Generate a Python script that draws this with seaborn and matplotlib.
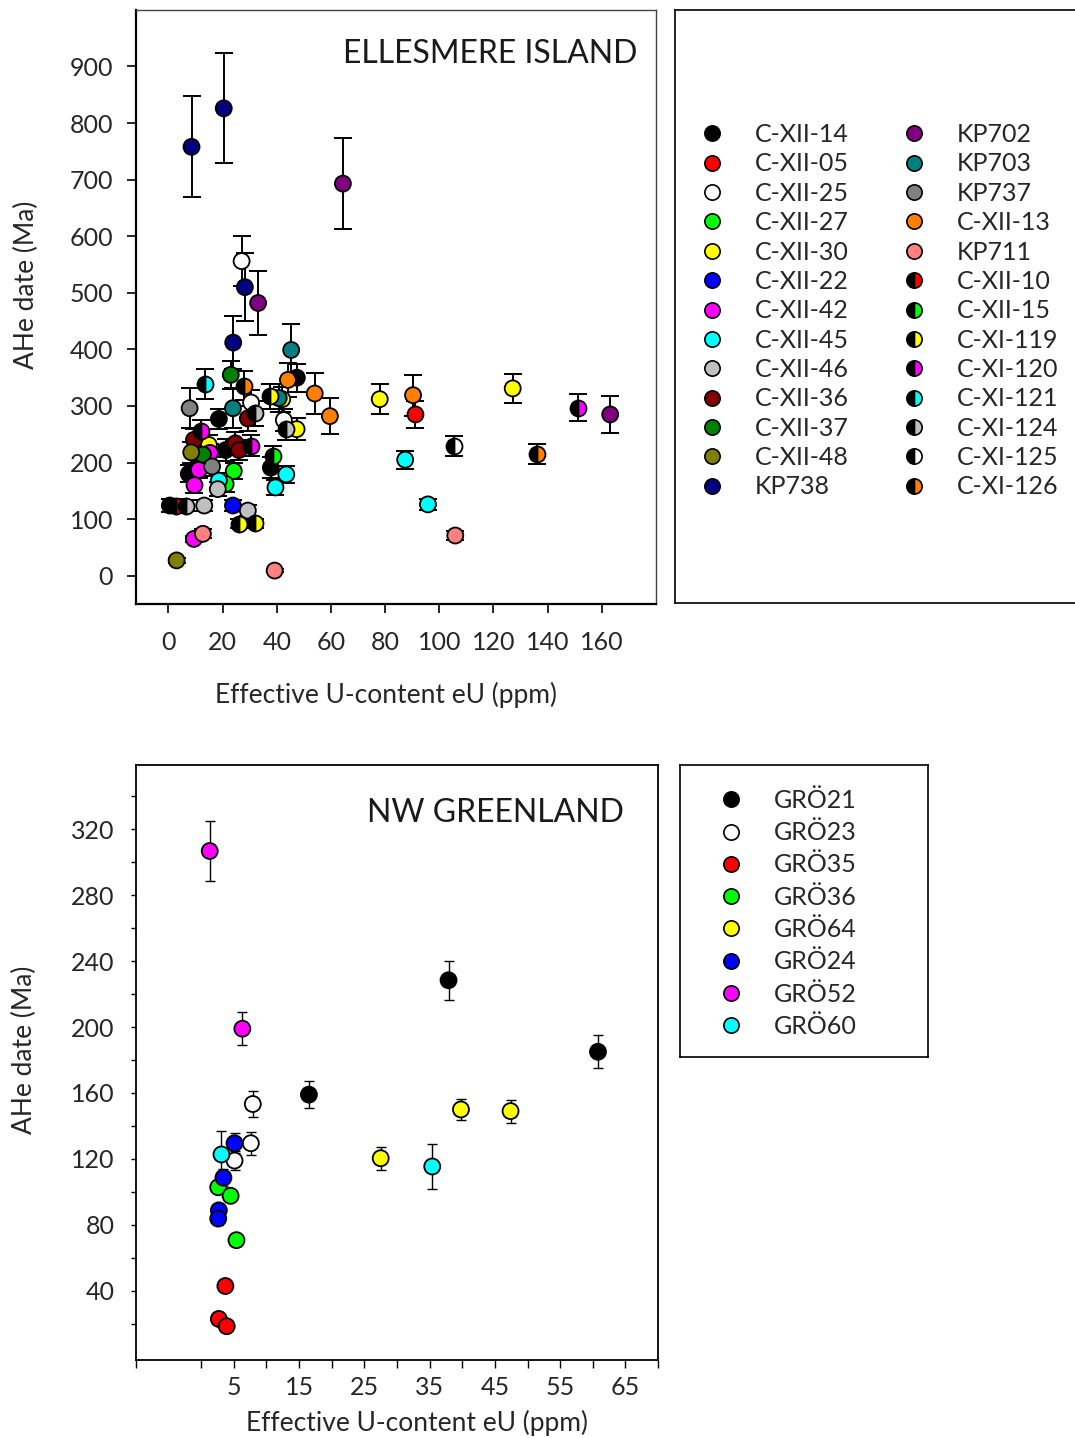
import numpy as np
import pandas as pd
import seaborn as sns
import matplotlib.pyplot as plt
from matplotlib.lines import Line2D
from matplotlib.ticker import FixedLocator

sns.set_style("white")
plt.rcParams['font.family'] = ['Lato', 'DejaVu Sans']

# ============================ ELLESMERE ISLAND ============================
ell_names = ['C-XII-14', 'C-XII-05', 'C-XII-25', 'C-XII-27', 'C-XII-30', 'C-XII-22',
             'C-XII-42', 'C-XII-45', 'C-XII-46', 'C-XII-36', 'C-XII-37', 'C-XII-48',
             'KP738', 'KP702', 'KP703', 'KP737', 'C-XII-13', 'KP711',
             'C-XII-10', 'C-XII-15', 'C-XI-119', 'C-XI-120', 'C-XI-121', 'C-XI-124',
             'C-XI-125', 'C-XI-126']
ell_colors = ['#000000', '#ff0000', '#ffffff', '#00ff00', '#ffff00', '#0000ff',
              '#ff00ff', '#00ffff', '#c0c0c0', '#800000', '#008000', '#808000',
              '#000080', '#800080', '#008080', '#808080', '#ff8000', '#ff8080',
              '#ff0000', '#00ff00', '#ffff00', '#ff00ff', '#00ffff', '#c0c0c0',
              '#ffffff', '#ff8000']
# half black / half colour symbols
ell_half = ['C-XII-10', 'C-XII-15', 'C-XI-119', 'C-XI-120', 'C-XI-121', 'C-XI-124',
            'C-XI-125', 'C-XI-126']

ell_sample = (['C-XII-14'] * 6 + ['C-XII-05'] + ['C-XII-25'] * 3 + ['C-XII-27'] * 2
              + ['C-XII-30'] * 5 + ['C-XII-22'] + ['C-XII-42'] * 4 + ['C-XII-45'] * 5
              + ['C-XII-46'] * 3 + ['C-XII-36'] * 4 + ['C-XII-37'] * 2 + ['C-XII-48'] * 2
              + ['KP738'] * 4 + ['KP702'] * 3 + ['KP703'] * 3 + ['KP737'] * 2
              + ['C-XII-13'] * 4 + ['KP711'] * 3 + ['C-XII-10'] + ['C-XII-15']
              + ['C-XI-119'] * 3 + ['C-XI-120'] * 3 + ['C-XI-121'] + ['C-XI-124'] * 3
              + ['C-XI-125'] + ['C-XI-126'] * 2)
ell_eu = [18.6, 47.4, 21.1, 37.8, 7.5, 0.5,
          91.2,
          27.0, 30.5, 42.6,
          24.1, 21.1,
          14.9, 42.0, 47.3, 78.0, 127.1,
          23.8,
          15.3, 11.2, 9.6, 9.4,
          43.5, 39.5, 18.6, 87.4, 95.8,
          18.2, 13.2, 29.3,
          29.3, 9.4, 24.7, 26.0,
          23.0, 12.7,
          8.4, 3.0,
          8.5, 20.4, 28.2, 23.9,
          64.4, 33.1, 163.1,
          45.3, 23.8, 40.7,
          7.8, 16.1,
          44.1, 54.0, 59.6, 90.3,
          12.7, 39.2, 105.9,
          2.6,
          38.5,
          37.4, 26.0, 32.1,
          12.1, 30.6, 151.2,
          13.3,
          6.3, 32.1, 43.5,
          105.4,
          27.8, 136.1]
ell_age = [277, 350, 222, 191, 180, 124,
           285,
           556, 306, 275,
           185, 162,
           231, 312, 259, 312, 331,
           124,
           217, 187, 160, 65,
           179, 156, 168, 205, 126,
           153, 124, 115,
           278, 240, 234, 222,
           355, 214,
           218, 27,
           758, 826, 510, 412,
           693, 482, 285,
           399, 296, 314,
           296, 193,
           346, 322, 282, 319,
           74, 9, 71,
           124,
           211,
           317, 92, 93,
           256, 230, 297,
           339,
           124, 287, 259,
           229,
           336, 215]
ell_err = [18, 25, 20, 18, 15, 12,
           24,
           44, 22, 20,
           15, 14,
           18, 22, 20, 26, 26,
           10,
           15, 15, 14, 6,
           15, 13, 14, 16, 10,
           12, 10, 10,
           22, 20, 20, 18,
           25, 18,
           18, 4,
           89, 97, 60, 47,
           81, 57, 33,
           46, 35, 25,
           35, 16,
           30, 37, 32, 36,
           8, 3, 8,
           12,
           18,
           22, 8, 8,
           20, 18, 24,
           26,
           10, 22, 20,
           18,
           25, 17]

# ============================ NW GREENLAND ============================
grl_names = ['GRÖ21', 'GRÖ23', 'GRÖ35', 'GRÖ36', 'GRÖ64', 'GRÖ24', 'GRÖ52', 'GRÖ60']
grl_colors = ['#000000', '#ffffff', '#ff0000', '#00ff00', '#ffff00', '#0000ff',
              '#ff00ff', '#00ffff']
grl_sample = (['GRÖ21'] * 3 + ['GRÖ23'] * 3 + ['GRÖ35'] * 3 + ['GRÖ36'] * 3
              + ['GRÖ64'] * 3 + ['GRÖ24'] * 4 + ['GRÖ52'] * 2 + ['GRÖ60'] * 2)
grl_eu = [37.9, 60.8, 16.5,
          7.9, 7.6, 5.1,
          3.7, 2.7, 3.9,
          2.6, 4.5, 5.4,
          27.5, 39.8, 47.4,
          5.1, 3.4, 2.7, 2.6,
          1.3, 6.3,
          3.1, 35.4]
grl_age = [228.4, 185, 159,
           153.3, 129.5, 119,
           42.9, 22.9, 18.5,
           102.8, 97.6, 70.7,
           120.4, 150, 149,
           129.5, 108.6, 88.8, 83.8,
           306.8, 199,
           122.7, 115.4]
grl_err = [11.7, 10, 8,
           8, 7, 6,
           0, 0, 0,
           3, 3, 0,
           7, 6.6, 7,
           6, 5, 4, 4,
           17.9, 10,
           14, 13.7]

ell = pd.DataFrame({'sample': ell_sample, 'eU': ell_eu, 'age': ell_age, 'err': ell_err})
grl = pd.DataFrame({'sample': grl_sample, 'eU': grl_eu, 'age': grl_age, 'err': grl_err})
ell_pal = dict(zip(ell_names, ell_colors))
grl_pal = dict(zip(grl_names, grl_colors))

fig = plt.figure(figsize=(10.75, 14.38), dpi=100)
ax1 = fig.add_axes([0.1265, 0.58, 0.4837, 0.4131])
ax2 = fig.add_axes([0.1265, 0.05424, 0.4856, 0.4138])

MS = 11.5
MEW = 1.3
FS = 18

# ---- top panel ----
ax1.errorbar(ell['eU'], ell['age'], yerr=ell['err'], fmt='none', ecolor='black',
             elinewidth=1.4, capsize=6.5, capthick=1.4, zorder=1)
full = ell[~ell['sample'].isin(ell_half)]
sns.scatterplot(data=full, x='eU', y='age', hue='sample', palette=ell_pal, s=MS ** 2,
                edgecolor='black', linewidth=MEW, legend=False, ax=ax1, zorder=3)
for name in ell_half:
    sub = ell[ell['sample'] == name]
    ax1.plot(sub['eU'], sub['age'], ls='none', marker='o', ms=MS, fillstyle='left',
             mfc='black', mfcalt=ell_pal[name], mec='black', mew=MEW, zorder=3)

ax1.set_xlim(-12, 180)
ax1.set_ylim(-50, 1000)
ax1.xaxis.set_major_locator(FixedLocator(np.arange(0, 161, 20)))
ax1.yaxis.set_major_locator(FixedLocator(np.arange(0, 901, 100)))
ax1.tick_params(axis='both', direction='out', length=6.5, width=1.2, labelsize=FS,
                color='black', bottom=True, left=True)
ax1.tick_params(axis='x', pad=13)
ax1.tick_params(axis='y', pad=10)
for s in ['left', 'bottom']:
    ax1.spines[s].set_linewidth(1.6)
    ax1.spines[s].set_color('black')
for s in ['top', 'right']:
    ax1.spines[s].set_linewidth(1.0)
    ax1.spines[s].set_color('#444444')
ax1.set_xlabel('Effective U-content eU (ppm)', fontsize=19)
ax1.set_ylabel('AHe date (Ma)', fontsize=19)
ax1.xaxis.set_label_coords(0.481, -0.131)
ax1.yaxis.set_label_coords(-0.186, 0.537)
ax1.text(0.9635, 0.926, 'ELLESMERE ISLAND', transform=ax1.transAxes, ha='right',
         va='center', fontsize=23, color='#1a1a1a')

# ---- bottom panel ----
ax2.errorbar(grl['eU'], grl['age'], yerr=grl['err'], fmt='none', ecolor='black',
             elinewidth=1.0, capsize=3.8, capthick=1.0, zorder=1)
sns.scatterplot(data=grl, x='eU', y='age', hue='sample', palette=grl_pal, s=MS ** 2,
                edgecolor='black', linewidth=MEW, legend=False, ax=ax2, zorder=3)
ax2.set_xlim(-10, 70)
ax2.set_ylim(-2, 359)
ax2.xaxis.set_major_locator(FixedLocator(np.arange(5, 66, 10)))
ax2.xaxis.set_minor_locator(FixedLocator(np.arange(-10, 71, 10)))
ax2.yaxis.set_major_locator(FixedLocator(np.arange(40, 321, 40)))
ax2.yaxis.set_minor_locator(FixedLocator(np.arange(20, 341, 40)))
ax2.tick_params(axis='both', which='both', direction='out', width=1.0, color='black',
                bottom=True, left=True, labelsize=FS)
ax2.tick_params(axis='x', which='both', length=5.5, pad=6)
ax2.tick_params(axis='y', which='both', length=3.6, pad=12)
for s in ax2.spines.values():
    s.set_linewidth(1.3)
    s.set_color('black')
ax2.set_xlabel('Effective U-content eU (ppm)', fontsize=19)
ax2.set_ylabel('AHe date (Ma)', fontsize=19)
ax2.xaxis.set_label_coords(0.538, -0.084)
ax2.yaxis.set_label_coords(-0.19, 0.521)
ax2.text(0.935, 0.919, 'NW GREENLAND', transform=ax2.transAxes, ha='right',
         va='center', fontsize=23, color='#1a1a1a')

# ---- legend boxes ----
lg1 = fig.add_axes([675 / 1075, 1 - 603 / 1438, 410 / 1075, 593 / 1438])
lg2 = fig.add_axes([680 / 1075, 1 - 1057 / 1438, 248 / 1075, 292 / 1438])
for a in (lg1, lg2):
    a.set_xticks([])
    a.set_yticks([])
    for s in a.spines.values():
        s.set_linewidth(1.2)
        s.set_color('black')

h1 = []
for name, col in zip(ell_names, ell_colors):
    if name in ell_half:
        h1.append(Line2D([], [], ls='none', marker='o', ms=11, fillstyle='left', mfc='black',
                         mfcalt=col, mec='black', mew=1.2, label=name))
    else:
        h1.append(Line2D([], [], ls='none', marker='o', ms=11, mfc=col, mec='black',
                         mew=1.2, label=name))
lg1.legend(handles=h1, ncol=2, frameon=False, fontsize=FS, loc='upper left',
           bbox_to_anchor=((699 - 675) / 410, (603 - 123) / 593), borderpad=0,
           borderaxespad=0, handlelength=1.0, handletextpad=1.22, columnspacing=2.1,
           labelspacing=0.255)

h2 = [Line2D([], [], ls='none', marker='o', ms=11, mfc=col, mec='black', mew=1.2, label=n)
      for n, col in zip(grl_names, grl_colors)]
lg2.legend(handles=h2, frameon=False, fontsize=FS, loc='upper left',
           bbox_to_anchor=((718 - 680) / 248, (1057 - 789) / 292), borderpad=0,
           borderaxespad=0, handlelength=1.0, handletextpad=1.22, labelspacing=0.37)

fig.savefig('out.png', dpi=100)
